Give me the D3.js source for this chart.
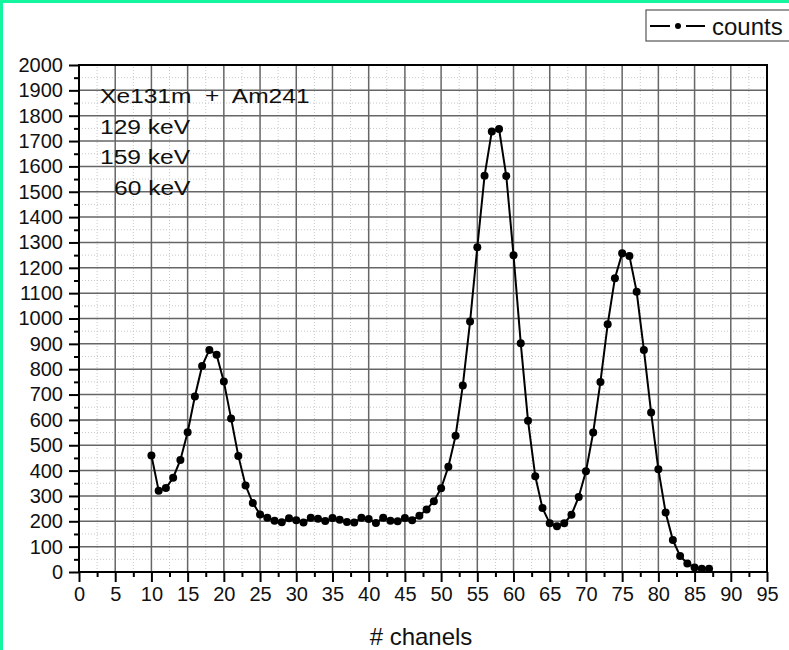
<!DOCTYPE html>
<html>
<head>
<meta charset="utf-8">
<script src="https://cdn.jsdelivr.net/npm/d3@7"></script>
<style>
  body { margin: 0; background: #fff; }
  svg { display: block; font-family: "Liberation Sans", Arial, sans-serif; }
</style>
</head>
<body>
<svg id="chart" width="789" height="650"></svg>
<script>
// spectrum data
const channels = d3.range(10, 88);
const counts = [
  460, 321, 331, 372, 442, 551, 692, 813, 876, 857,
  751, 606, 458, 341, 272, 227, 214, 202, 196, 212,
  204, 195, 214, 210, 201, 213, 206, 197, 195, 214,
  209, 193, 214, 202, 200, 213, 204, 222, 247, 279,
  330, 415, 537, 736, 988, 1281, 1563, 1738, 1748, 1562,
  1250, 902, 597, 378, 252, 192, 180, 192, 226, 296,
  397, 550, 750, 977, 1159, 1257, 1247, 1106, 876, 629,
  405, 235, 126, 63, 34, 18, 13, 13
];
const xTicks = d3.range(0, 96, 5);
const yTicks = d3.range(0, 2001, 100);
const notes = ["Xe131m  +  Am241", "129 keV", "159 keV", "60 keV"];
const noteX = [100, 100, 100, 114];

const svg = d3.select("#chart");
const margin = {left: 79, right: 22, top: 65, bottom: 78};
const W = 789, H = 650;

const x = d3.scaleLinear().domain([0, 95]).range([margin.left, W - margin.right]);
const y = d3.scaleLinear().domain([0, 2000]).range([H - margin.bottom, margin.top]);

// green edge (top + left)
svg.append("rect").attr("x", 0).attr("y", 0).attr("width", W).attr("height", 3).attr("fill", "#14f5a0");
svg.append("rect").attr("x", 0).attr("y", 0).attr("width", 3).attr("height", H).attr("fill", "#14f5a0");

// minor grid
const minorX = d3.range(2.5, 95, 5), minorY = d3.range(50, 2000, 100);
svg.append("g").selectAll("line").data(minorX).join("line")
  .attr("x1", d => x(d)).attr("x2", d => x(d))
  .attr("y1", y(0)).attr("y2", y(2000))
  .attr("stroke", "#c8c8c8").attr("stroke-width", 1).attr("stroke-dasharray", "1,2");
svg.append("g").selectAll("line").data(minorY).join("line")
  .attr("y1", d => y(d)).attr("y2", d => y(d))
  .attr("x1", x(0)).attr("x2", x(95))
  .attr("stroke", "#c8c8c8").attr("stroke-width", 1).attr("stroke-dasharray", "1,2");

// major grid
svg.append("g").selectAll("line").data(xTicks.slice(1, -1)).join("line")
  .attr("x1", d => x(d)).attr("x2", d => x(d))
  .attr("y1", y(0)).attr("y2", y(2000))
  .attr("stroke", "#666").attr("stroke-width", 1.5);
svg.append("g").selectAll("line").data(yTicks.slice(1, -1)).join("line")
  .attr("y1", d => y(d)).attr("y2", d => y(d))
  .attr("x1", x(0)).attr("x2", x(95))
  .attr("stroke", "#666").attr("stroke-width", 1.5);

// axes
const xAxis = svg.append("g").attr("transform", `translate(0,${y(0)})`)
  .call(d3.axisBottom(x).tickValues(xTicks).tickSize(10).tickPadding(5));
svg.append("g").attr("transform", `translate(0,${y(0)})`)
  .call(d3.axisBottom(x).tickValues(minorX).tickSize(5).tickFormat(""))
  .select(".domain").remove();
const yAxis = svg.append("g").attr("transform", `translate(${x(0)},0)`)
  .call(d3.axisLeft(y).tickValues(yTicks).tickFormat(d3.format("d")).tickSize(10).tickPadding(6));
svg.append("g").attr("transform", `translate(${x(0)},0)`)
  .call(d3.axisLeft(y).tickValues(minorY).tickSize(5).tickFormat(""))
  .select(".domain").remove();

svg.selectAll(".tick line").attr("stroke", "#000").attr("stroke-width", 2);
svg.selectAll(".domain").attr("stroke-width", 0);
xAxis.selectAll("text").attr("font-size", 20).attr("fill", "#111");
yAxis.selectAll("text").attr("font-size", 20).attr("fill", "#111");

// frame
svg.append("rect")
  .attr("x", x(0)).attr("y", y(2000))
  .attr("width", x(95) - x(0)).attr("height", y(0) - y(2000))
  .attr("fill", "none").attr("stroke", "#000").attr("stroke-width", 2);

// data line + points
const line = d3.line().x((d, i) => x(channels[i])).y(d => y(d));
svg.append("path").datum(counts)
  .attr("d", line).attr("fill", "none").attr("stroke", "#000").attr("stroke-width", 2);
svg.append("g").selectAll("circle").data(counts).join("circle")
  .attr("cx", (d, i) => x(channels[i])).attr("cy", d => y(d))
  .attr("r", 4).attr("fill", "#000");

// annotation (text in the original is a bit wide, so stretch it)
svg.append("g").selectAll("text").data(notes).join("text")
  .attr("transform", (d, i) => `translate(${noteX[i]},${103 + i * 30.7}) scale(1.17,1)`)
  .attr("font-size", 21).attr("fill", "#111")
  .attr("xml:space", "preserve").style("white-space", "pre")
  .text(d => d);

// x label
svg.append("text")
  .attr("x", 421).attr("y", 645)
  .attr("text-anchor", "middle").attr("font-size", 24).attr("fill", "#111")
  .text("# chanels");

// legend
const lg = svg.append("g");
lg.append("rect").attr("x", 646).attr("y", 10).attr("width", 150).attr("height", 31)
  .attr("fill", "#fff").attr("stroke", "#555").attr("stroke-width", 1.2);
lg.append("line").attr("x1", 650).attr("x2", 705).attr("y1", 26).attr("y2", 26)
  .attr("stroke", "#000").attr("stroke-width", 2);
lg.append("rect").attr("x", 670).attr("y", 22).attr("width", 16).attr("height", 8).attr("fill", "#fff");
lg.append("circle").attr("cx", 678).attr("cy", 26).attr("r", 3).attr("fill", "#000");
lg.append("text").attr("x", 712).attr("y", 35).attr("font-size", 24).attr("fill", "#111").text("counts");
</script>
</body>
</html>
